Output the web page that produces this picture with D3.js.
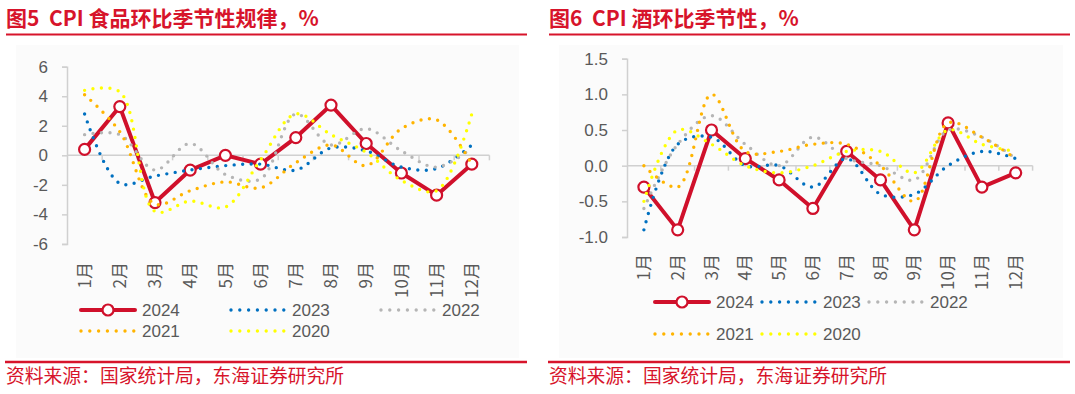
<!DOCTYPE html>
<html>
<head>
<meta charset="utf-8">
<script src="https://cdn.jsdelivr.net/npm/d3@7"></script>
<style>
  body { margin: 0; background: #fff; }
  svg text { font-family: Arial, "Liberation Sans", "Noto Sans CJK SC", sans-serif; }
  .cjk { font-family: "Noto Sans CJK SC", sans-serif !important; }
</style>
</head>
<body>
<svg id="chart" width="1075" height="394"></svg>
<script>
let months = ["1月", "2月", "3月", "4月", "5月", "6月", "7月", "8月", "9月", "10月", "11月", "12月"];
let years = ["2024", "2023", "2022", "2021", "2020"];

// 图5 CPI 食品环比, %
let food2024 = [0.4, 3.3, -3.2, -1.0, 0.0, -0.6, 1.2, 3.4, 0.8, -1.2, -2.7, -0.6];
let food2023 = [2.8, -1.9, -1.4, -1.0, -0.7, -0.6, -1.0, 0.5, 0.3, -0.8, -0.9, 0.7];
let food2022 = [1.4, 1.4, -1.0, 0.8, -1.3, -1.6, 2.8, 0.7, 1.8, 0.3, -0.8, 0.5];
let food2021 = [4.1, 1.6, -3.3, -2.4, -1.8, -2.2, -0.5, 0.7, -0.7, 1.8, 2.4, -0.6];
let food2020 = [4.4, 4.3, -3.8, -3.1, -3.5, -0.3, 2.8, 1.4, 0.2, -1.7, -2.4, 2.8];
let foodTicks = [-6, -4, -2, 0, 2, 4, 6];

// 图6 CPI 酒环比, %
let liquor2024 = [-0.3, -0.9, 0.5, 0.1, -0.2, -0.6, 0.2, -0.2, -0.9, 0.6, -0.3, -0.1];
let liquor2023 = [-0.9, 0.3, 0.4, 0.0, 0.0, -0.3, 0.1, -0.4, -0.4, 0.0, 0.2, 0.1];
let liquor2022 = [-0.6, 0.3, 0.7, 0.3, 0.0, 0.4, 0.1, 0.0, -0.2, 0.5, 0.4, 0.1];
let liquor2021 = [0.0, -0.3, 1.0, 0.2, 0.2, 0.3, 0.3, 0.0, -0.5, 0.6, 0.4, 0.1];
let liquor2020 = [-0.5, 0.5, 0.3, 0.0, -0.1, 0.0, 0.2, 0.2, -0.1, 0.5, 0.3, 0.2];
let liquorTicks = [-1.0, -0.5, 0.0, 0.5, 1.0, 1.5];

let seriesColors = ["#d0102b", "#0070c0", "#b5b5b5", "#ffb400", "#ffff00"];
let redText = "#d7142b";
let greyText = "#595959";
let axisGrey = "#d0d0d0";

let svg = d3.select("#chart");

// plain hyphen for negatives, like the source chart
function hyphen(fmt) {
  return function(d) { return fmt(d).replace("\u2212", "-"); };
}

function drawPanel(cfg) {
  let g = svg.append("g");

  // title + rules
  g.append("text")
    .attr("class", "cjk")
    .attr("x", cfg.left)
    .attr("y", 25.5)
    .style("white-space", "pre")
    .style("font-size", "21px")
    .style("font-weight", "bold")
    .style("fill", redText)
    .text(cfg.title);

  g.append("line")
    .attr("x1", cfg.left).attr("x2", cfg.right)
    .attr("y1", 34.5).attr("y2", 34.5)
    .attr("stroke", redText).attr("stroke-width", 2);

  g.append("rect")
    .attr("x", cfg.bg[0]).attr("y", 45)
    .attr("width", cfg.bg[1]).attr("height", 313)
    .attr("fill", "#fbfbfb");

  g.append("line")
    .attr("x1", cfg.left - 1).attr("x2", cfg.right)
    .attr("y1", 362).attr("y2", 362)
    .attr("stroke", redText).attr("stroke-width", 2.5);

  g.append("text")
    .attr("class", "cjk")
    .attr("x", cfg.left)
    .attr("y", 382.5)
    .style("font-size", "18.8px")
    .style("fill", redText)
    .text("资料来源：国家统计局，东海证券研究所");

  // scales
  let xScale = d3.scaleBand()
    .domain(months)
    .range(cfg.xRange);

  let yScale = d3.scaleLinear()
    .domain(d3.extent(cfg.ticks))
    .range(cfg.yRange);

  // y axis
  let yAxis = d3.axisLeft(yScale)
    .tickValues(cfg.ticks)
    .tickFormat(hyphen(cfg.fmt))
    .tickSize(5)
    .tickPadding(14);

  let ya = g.append("g")
    .attr("transform", "translate(" + cfg.xRange[0] + ",0)")
    .call(yAxis);
  ya.select(".domain").attr("stroke", axisGrey).attr("stroke-width", 1.5);
  ya.selectAll(".tick line").attr("stroke", axisGrey).attr("stroke-width", 1.5);
  ya.selectAll(".tick text")
    .style("font-size", "17px")
    .style("fill", greyText)
    .style("font-family", "Arial, 'Liberation Sans', sans-serif");

  // zero line with category ticks
  let x0 = yScale(0);
  g.append("line")
    .attr("x1", cfg.xRange[0]).attr("x2", cfg.xRange[1])
    .attr("y1", x0).attr("y2", x0)
    .attr("stroke", axisGrey).attr("stroke-width", 1.5);

  g.selectAll(".cattick")
    .data(months.slice(1).concat(["end"]))
    .enter()
    .append("line")
    .attr("x1", function(d) { return d === "end" ? cfg.xRange[1] : xScale(d); })
    .attr("x2", function(d) { return d === "end" ? cfg.xRange[1] : xScale(d); })
    .attr("y1", x0).attr("y2", x0 + 5)
    .attr("stroke", axisGrey).attr("stroke-width", 1.5);

  // month labels, rotated
  g.selectAll(".monthlabel")
    .data(months)
    .enter()
    .append("text")
    .attr("class", "cjk")
    .attr("transform", function(d) {
      return "translate(" + (xScale(d) + xScale.bandwidth() / 2) + "," + cfg.labelTop + ") rotate(-90)";
    })
    .attr("text-anchor", "end")
    .attr("dy", "0.36em")
    .style("font-size", "17px")
    .style("fill", greyText)
    .text(function(d) { return d; });

  // series
  let cx = function(d, i) { return xScale(months[i]) + xScale.bandwidth() / 2; };

  cfg.series.forEach(function(values, k) {
    let line = d3.line()
      .x(cx)
      .y(function(d) { return yScale(d); });

    if (k === 0) {
      g.append("path")
        .datum(values)
        .attr("d", line.curve(d3.curveLinear))
        .attr("fill", "none")
        .attr("stroke", seriesColors[0])
        .attr("stroke-width", 4)
        .attr("stroke-linejoin", "round");

      g.selectAll(".marker")
        .data(values)
        .enter()
        .append("circle")
        .attr("cx", cx)
        .attr("cy", function(d) { return yScale(d); })
        .attr("r", 5.5)
        .attr("fill", "#fff")
        .attr("stroke", seriesColors[0])
        .attr("stroke-width", 2.2);
    } else {
      g.append("path")
        .datum(values)
        .attr("d", line.curve(d3.curveCatmullRom.alpha(0.5)))
        .attr("fill", "none")
        .attr("stroke", seriesColors[k])
        .attr("stroke-width", 3.4)
        .attr("stroke-linecap", "round")
        .attr("stroke-dasharray", "0 8.5");
    }
  });

  // legend
  let legend = g.selectAll(".legend")
    .data(years)
    .enter()
    .append("g")
    .attr("transform", function(d, i) {
      return "translate(" + cfg.legendX[i] + "," + cfg.legendY[i] + ")";
    });

  legend.append("line")
    .attr("x1", 0).attr("x2", 54)
    .attr("y1", 0).attr("y2", 0)
    .attr("stroke", function(d, i) { return seriesColors[i]; })
    .attr("stroke-width", function(d, i) { return i === 0 ? 4 : 3.4; })
    .attr("stroke-linecap", "round")
    .attr("stroke-dasharray", function(d, i) { return i === 0 ? null : "0 8.8"; });

  legend.filter(function(d, i) { return i === 0; })
    .append("circle")
    .attr("cx", 27).attr("cy", 0)
    .attr("r", 5.5)
    .attr("fill", "#fff")
    .attr("stroke", seriesColors[0])
    .attr("stroke-width", 2.2);

  legend.append("text")
    .attr("x", 61)
    .attr("y", 6)
    .style("font-size", "17px")
    .style("fill", greyText)
    .text(function(d) { return d; });
}

drawPanel({
  title: "图5  CPI 食品环比季节性规律，%",
  left: 6, right: 527,
  bg: [16, 503],
  xRange: [67, 489.4],
  yRange: [243.9, 66.7],
  ticks: foodTicks,
  fmt: d3.format("d"),
  labelTop: 262,
  series: [food2024, food2023, food2022, food2021, food2020],
  legendX: [81, 231, 381, 81, 231],
  legendY: [310, 310, 310, 331, 331]
});

drawPanel({
  title: "图6  CPI 酒环比季节性，%",
  left: 549, right: 1070,
  bg: [559, 504],
  xRange: [627, 1032.6],
  yRange: [237, 58.7],
  ticks: liquorTicks,
  fmt: d3.format(".1f"),
  labelTop: 254,
  series: [liquor2024, liquor2023, liquor2022, liquor2021, liquor2020],
  legendX: [655, 762, 869, 655, 762],
  legendY: [302, 302, 302, 334, 334]
});
</script>
</body>
</html>
